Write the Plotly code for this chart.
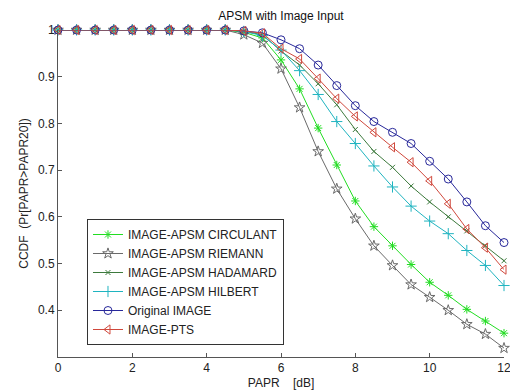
import plotly.graph_objects as go

papr_db = [0, 0.5, 1, 1.5, 2, 2.5, 3, 3.5, 4, 4.5, 5, 5.5, 6, 6.5, 7, 7.5, 8, 8.5, 9, 9.5, 10, 10.5, 11, 11.5, 12]

ones = [1.0] * 10
circulant = ones + [0.995, 0.983, 0.936, 0.874, 0.790, 0.711, 0.634, 0.579, 0.538, 0.498, 0.460, 0.432, 0.402, 0.377, 0.351]
riemann   = ones + [0.990, 0.972, 0.917, 0.834, 0.740, 0.660, 0.596, 0.538, 0.496, 0.455, 0.428, 0.400, 0.370, 0.349, 0.319]
hadamard  = ones + [0.997, 0.990, 0.955, 0.925, 0.885, 0.840, 0.787, 0.740, 0.706, 0.666, 0.632, 0.600, 0.570, 0.538, 0.506]
hilbert   = ones + [0.997, 0.988, 0.957, 0.913, 0.862, 0.804, 0.757, 0.709, 0.664, 0.623, 0.591, 0.564, 0.528, 0.496, 0.453]
original  = ones + [0.998, 0.994, 0.979, 0.960, 0.925, 0.881, 0.838, 0.804, 0.781, 0.757, 0.719, 0.681, 0.632, 0.581, 0.545]
pts       = ones + [0.998, 0.993, 0.960, 0.938, 0.896, 0.853, 0.815, 0.781, 0.749, 0.717, 0.677, 0.628, 0.574, 0.534, 0.487]

x_ticks = [0, 2, 4, 6, 8, 10, 12]
y_ticks = [0.4, 0.5, 0.6, 0.7, 0.8, 0.9, 1.0]
y_tick_labels = ["0.4", "0.5", "0.6", "0.7", "0.8", "0.9", "1"]

series = [
    ("IMAGE-APSM CIRCULANT", circulant, "#22dd22", "asterisk-open", 7),
    ("IMAGE-APSM RIEMANN", riemann, "#6a6a6a", "star-open", 8),
    ("IMAGE-APSM HADAMARD", hadamard, "#3d7a3d", "x-thin-open", 5),
    ("IMAGE-APSM HILBERT", hilbert, "#1fb4c0", "cross-thin-open", 8),
    ("Original IMAGE", original, "#28289a", "circle-open", 8),
    ("IMAGE-PTS", pts, "#d0483c", "triangle-left-open", 8),
]

font_family = "Liberation Sans, Arial, sans-serif"

fig = go.Figure()
for name, vals, color, sym, size in series:
    fig.add_trace(go.Scatter(
        x=papr_db, y=vals, name=name, mode="lines+markers",
        line=dict(color=color, width=1),
        marker=dict(symbol=sym, size=size, color=color, line=dict(color=color, width=1)),
        cliponaxis=False,
    ))

fig.update_layout(
    width=510, height=392,
    margin=dict(l=58, r=6, t=30, b=35, autoexpand=False),
    paper_bgcolor="white", plot_bgcolor="white",
    font=dict(family=font_family, size=12, color="#222"),
    title=dict(text="APSM with Image Input", x=0.551, xanchor="center",
               y=0.96, yanchor="middle", font=dict(size=12, color="#111")),
    showlegend=True,
    legend=dict(x=0.065, y=0.422, xanchor="left", yanchor="top",
                bgcolor="white", bordercolor="#333", borderwidth=1,
                font=dict(size=12, color="#222"), tracegroupgap=0),
    xaxis=dict(range=[-0.0001, 12.0001], tickvals=x_ticks, ticklabeloverflow="allow",
               showgrid=False, zeroline=False, showline=True, linecolor="#555", linewidth=1,
               ticks="inside", ticklen=4, tickcolor="#555",
               title=dict(text="PAPR\u00a0\u00a0\u00a0\u00a0[dB]", standoff=4, font=dict(size=12))),
    yaxis=dict(range=[0.3, 1.0], tickvals=y_ticks, ticktext=y_tick_labels,
               showgrid=False, zeroline=False, showline=True, linecolor="#555", linewidth=1,
               ticks="inside", ticklen=4, tickcolor="#555",
               title=dict(text="CCDF  (Pr[PAPR>PAPR20])", standoff=6, font=dict(size=12))),
)

fig.write_html("out.html")
